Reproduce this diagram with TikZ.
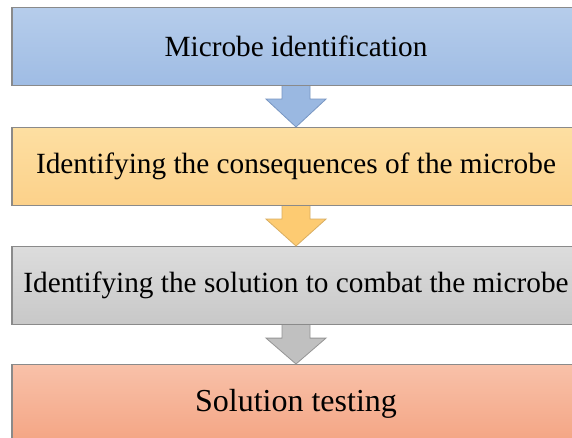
\documentclass[tikz,border=0pt]{standalone}
\usepackage{fontspec}
\setmainfont{Liberation Serif}
\definecolor{bluetop}{HTML}{B6CDEB}
\definecolor{bluebot}{HTML}{9FBCE4}
\definecolor{orgtop}{HTML}{FDDFA2}
\definecolor{orgbot}{HTML}{FCD18A}
\definecolor{grytop}{HTML}{DCDCDC}
\definecolor{grybot}{HTML}{C8C8C8}
\definecolor{saltop}{HTML}{F8C1A9}
\definecolor{salbot}{HTML}{F4A584}
\definecolor{boxedge}{HTML}{8A8A8A}
\definecolor{bluearr}{HTML}{9AB8E1}
\definecolor{bluearredge}{HTML}{7896C2}
\definecolor{orgarr}{HTML}{FDCB72}
\definecolor{orgarredge}{HTML}{D9AE62}
\definecolor{gryarr}{HTML}{C0C0C0}
\definecolor{gryarredge}{HTML}{959595}
\tikzset{
  stepbox/.style={rectangle, draw=boxedge, line width=1.1pt, minimum width=568pt,
    minimum height=78pt, inner sep=0pt, anchor=north,
    font=\fontsize{29.3}{34}\selectfont},
  arrowshape/.style={line width=0.8pt, line join=miter}
}
\newcommand\flowarrow[4]{%
  \draw[arrowshape, fill=#3, draw=#4]
    ([xshift=-14pt]#1.south) -- ([xshift=-14pt,yshift=-13pt]#1.south)
    -- ([xshift=-30pt,yshift=-13pt]#1.south) -- (#2.north)
    -- ([xshift=30pt,yshift=-13pt]#1.south) -- ([xshift=14pt,yshift=-13pt]#1.south)
    -- ([xshift=14pt]#1.south);}
\begin{document}
\begin{tikzpicture}[x=1pt,y=-1pt]
\useasboundingbox (0,0) rectangle (572,438);
\clip (0,0) rectangle (572,438);
\fill[white] (0,0) rectangle (572,438);
\node[stepbox, top color=bluetop, bottom color=bluebot] (b1) at (296,7) {Microbe identification};
\node[stepbox, top color=orgtop, bottom color=orgbot] (b2) at (296,127) {Identifying the consequences of the microbe};
\node[stepbox, top color=grytop, bottom color=grybot] (b3) at (296,246) {Identifying the solution to combat the microbe};
\node[stepbox, top color=saltop, bottom color=salbot, font=\fontsize{32}{38}\selectfont] (b4) at (296,364) {Solution testing};
\flowarrow{b1}{b2}{bluearr}{bluearredge}
\flowarrow{b2}{b3}{orgarr}{orgarredge}
\flowarrow{b3}{b4}{gryarr}{gryarredge}
\end{tikzpicture}
\end{document}
